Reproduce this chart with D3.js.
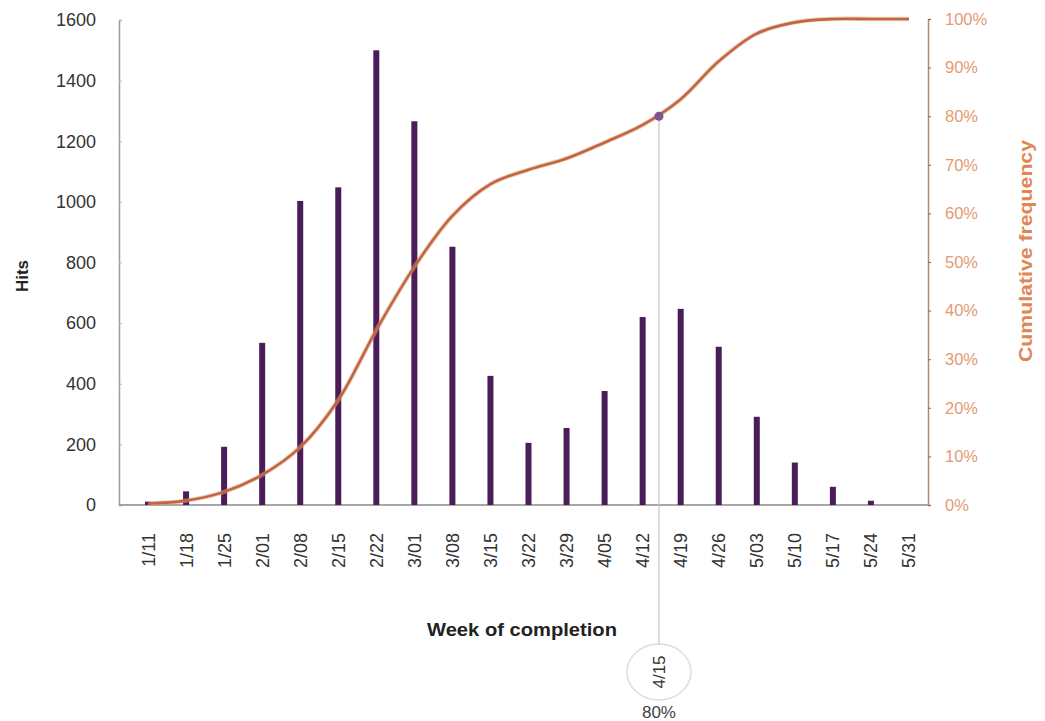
<!DOCTYPE html>
<html><head><meta charset="utf-8">
<script src="https://cdn.jsdelivr.net/npm/d3@7"></script>
<style>body{margin:0;background:#fff}svg{display:block}text{font-family:Arial,"Liberation Sans",sans-serif}</style>
</head><body>
<svg id="c" width="1045" height="721"></svg>
<script>
const weeks = ["1/11","1/18","1/25","2/01","2/08","2/15","2/22","3/01","3/08","3/15","3/22","3/29","4/05","4/12","4/19","4/26","5/03","5/10","5/17","5/24","5/31"];
const hits = [11,45,192,535,1003,1048,1500,1266,852,426,205,254,376,620,647,522,291,140,60,14,0];
const cumulative = [0.3,0.9,2.7,6.2,11.9,21.6,36,49,59.5,66,69,71.3,74.6,78.2,83.5,91.3,97,99.3,100,100,100];
const hitsTicks = [0,200,400,600,800,1000,1200,1400,1600];
const pctTicks = [0,10,20,30,40,50,60,70,80,90,100];
const marker = {base:"4/12", days:3, label:"4/15", pct:80};

const svg = d3.select("#c");
const x = d3.scaleBand().domain(weeks).range([129, 928]);
const yL = d3.scaleLinear().domain([0,1600]).range([505, 20]);
const yR = d3.scaleLinear().domain([0,100]).range([505, 19]);
const cx = d => x(d) + x.bandwidth()/2;

// left axis
const gl = svg.append("g").attr("transform","translate(119,0)")
  .call(d3.axisLeft(yL).tickValues(hitsTicks).tickSize(-3).tickPadding(23).tickFormat(d3.format("d")));
gl.select(".domain").attr("stroke","#9a9a9a").attr("stroke-width",1.5);
gl.selectAll(".tick line").attr("stroke","#bbb");
gl.selectAll(".tick text").attr("font-size",18).attr("fill","#333");

// right axis
const gr = svg.append("g").attr("transform","translate(928,0)")
  .call(d3.axisRight(yR).tickValues(pctTicks).tickSize(3).tickPadding(14).tickFormat(d=>d+"%"));
gr.select(".domain").attr("stroke","#b08878").attr("stroke-width",1.5);
gr.selectAll(".tick line").attr("stroke","#8a6a5a");
gr.selectAll(".tick text").attr("font-size",16.5).attr("fill","#e59a72");

// x axis
const gx = svg.append("g").attr("transform","translate(0,505)")
  .call(d3.axisBottom(x).tickSize(0).tickPadding(0));
gx.select(".domain").attr("stroke","#8a8a8a").attr("stroke-width",1.5).attr("d","M119,0H928");
gx.selectAll(".tick text").attr("font-size",18).attr("fill","#333")
  .attr("text-anchor","end").attr("transform","translate(0,28) rotate(-90)").attr("dy","0.36em").attr("x",0).attr("y",0);

// bars
svg.append("g").selectAll("rect").data(weeks).join("rect")
  .attr("x", (d)=>cx(d)-3).attr("width",6)
  .attr("y",(d,i)=>yL(hits[i])).attr("height",(d,i)=>505-yL(hits[i]))
  .attr("fill","#4b1d58");

// marker vertical line
const mx = cx(marker.base) + x.step()*marker.days/7;
svg.append("line").attr("x1",mx).attr("x2",mx).attr("y1",yR(marker.pct)).attr("y2",645)
  .attr("stroke","#c4c4cc").attr("stroke-width",1.2);

// cumulative curve
const line = d3.line().x((d,i)=>cx(weeks[i])).y(d=>yR(Math.min(d,100))).curve(d3.curveCatmullRom.alpha(0.5));
svg.append("path").datum(cumulative).attr("d",line).attr("fill","none")
  .attr("stroke","#d9a080").attr("stroke-width",4.5).attr("opacity",0.5);
svg.append("path").datum(cumulative).attr("d",line).attr("fill","none")
  .attr("stroke","#c3653f").attr("stroke-width",2.6);

// marker point
svg.append("circle").attr("cx",mx).attr("cy",yR(marker.pct)).attr("r",4.5).attr("fill","#7d5590");

// annotation
svg.append("ellipse").attr("cx",mx).attr("cy",672).attr("rx",32).attr("ry",28)
  .attr("fill","none").attr("stroke","#ddd").attr("stroke-width",1.5);
svg.append("text").attr("transform",`translate(${mx},672) rotate(-90)`).attr("text-anchor","middle")
  .attr("dy","0.36em").attr("font-size",17).attr("fill","#333").text(marker.label);
svg.append("text").attr("x",mx).attr("y",718).attr("text-anchor","middle")
  .attr("font-size",17).attr("fill","#444").text(marker.pct+"%");

// titles
svg.append("text").attr("x",522).attr("y",636).attr("text-anchor","middle")
  .attr("font-size",19).attr("font-weight","bold").attr("fill","#222")
  .attr("textLength",190).attr("lengthAdjust","spacingAndGlyphs").text("Week of completion");
svg.append("text").attr("transform","translate(22,276) rotate(-90)").attr("text-anchor","middle")
  .attr("dy","0.36em").attr("font-size",17).attr("font-weight","bold").attr("fill","#222").text("Hits");
svg.append("text").attr("transform","translate(1025,251) rotate(-90)").attr("text-anchor","middle")
  .attr("dy","0.36em").attr("font-size",19).attr("font-weight","bold").attr("fill","#e08655")
  .attr("textLength",222).attr("lengthAdjust","spacingAndGlyphs").text("Cumulative frequency");
</script>
</body></html>
